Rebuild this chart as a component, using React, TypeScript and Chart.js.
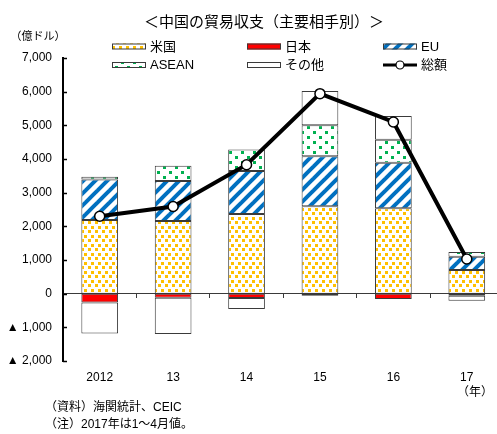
import React, { useEffect, useRef } from 'react';
import { Chart, registerables } from 'chart.js';

Chart.register(...registerables);

const years = ['2012', '13', '14', '15', '16', '17'];
const usValues = [2190, 2160, 2370, 2600, 2540, 705];
const japanValues = [-260, -120, -130, -60, -160, -60];
const euValues = [1200, 1190, 1270, 1480, 1350, 395];
const aseanValues = [85, 446, 640, 920, 685, 140];
const otherValues = [-920, -1080, -325, 1020, 705, -150];
const totalValues = [2300, 2590, 3830, 5940, 5100, 1030];

const titleText = '＜中国の貿易収支（主要相手別）＞';
const unitText = '（億ドル）';
const yearUnitText = '（年）';
const noteLines = ['（資料）海関統計、CEIC', '（注）2017年は1～4月値。'];
const legendNames = ['米国', '日本', 'EU', 'ASEAN', 'その他', '総額'];

const FONT = '"Liberation Sans", Arial, "Noto Sans CJK JP", sans-serif';
const BORDER = '#3a3a3a';

function makeTile(kind: string): HTMLCanvasElement {
  const c = document.createElement('canvas');
  const ctx = c.getContext('2d') as CanvasRenderingContext2D;
  if (kind === 'us') {
    c.width = 7; c.height = 9;
    ctx.fillStyle = '#ffffff'; ctx.fillRect(0, 0, 7, 9);
    ctx.fillStyle = '#FFC000';
    ctx.fillRect(0, 1, 3, 3);
    ctx.fillRect(4, 5, 3, 3);
  } else if (kind === 'eu') {
    c.width = 12; c.height = 12;
    ctx.fillStyle = '#ffffff'; ctx.fillRect(0, 0, 12, 12);
    ctx.strokeStyle = '#0070C0';
    ctx.lineWidth = 4;
    for (const o of [-12, 0, 12]) {
      ctx.beginPath();
      ctx.moveTo(o - 2, 14);
      ctx.lineTo(o + 14, -2);
      ctx.stroke();
    }
  } else {
    c.width = 12; c.height = 10;
    ctx.fillStyle = '#ffffff'; ctx.fillRect(0, 0, 12, 10);
    ctx.fillStyle = '#00B050';
    ctx.fillRect(1, 1, 3, 3);
    ctx.fillRect(7, 6, 3, 3);
  }
  return c;
}

export default function App() {
  const ref = useRef<HTMLCanvasElement | null>(null);

  useEffect(() => {
    const canvas = ref.current;
    if (!canvas) return;
    const ctx0 = canvas.getContext('2d') as CanvasRenderingContext2D;
    const usPat = ctx0.createPattern(makeTile('us'), 'repeat') as CanvasPattern;
    const euPat = ctx0.createPattern(makeTile('eu'), 'repeat') as CanvasPattern;
    const aseanPat = ctx0.createPattern(makeTile('asean'), 'repeat') as CanvasPattern;

    const overlay = {
      id: 'overlay',
      afterDraw(chart: any) {
        const ctx = chart.ctx as CanvasRenderingContext2D;
        const y = chart.scales.y;
        const area = chart.chartArea;
        ctx.save();
        // inward ticks on y axis
        ctx.strokeStyle = '#000';
        ctx.lineWidth = 1.5;
        for (const t of y.ticks) {
          const py = Math.round(y.getPixelForValue(t.value)) + 0.5;
          ctx.beginPath();
          ctx.moveTo(area.left, py);
          ctx.lineTo(area.left + 4, py);
          ctx.stroke();
        }
        // title
        ctx.fillStyle = '#000';
        ctx.textBaseline = 'middle';
        ctx.textAlign = 'center';
        ctx.font = `15px ${FONT}`;
        ctx.fillText(titleText, 264, 23);
        ctx.font = `11px ${FONT}`;
        ctx.fillText(unitText, 38, 37);
        // legend
        const legendItems = [
          { x: 112, y: 46.5, fill: usPat, kind: 'box' },
          { x: 247, y: 46.5, fill: '#FF0000', kind: 'box' },
          { x: 383, y: 46.5, fill: euPat, kind: 'box' },
          { x: 112, y: 65, fill: aseanPat, kind: 'box' },
          { x: 247, y: 65, fill: '#ffffff', kind: 'box' },
          { x: 383, y: 65, fill: '#000', kind: 'line' },
        ];
        ctx.font = `13px ${FONT}`;
        ctx.textAlign = 'left';
        legendItems.forEach((it, i) => {
          if (it.kind === 'box') {
            ctx.fillStyle = it.fill as any;
            ctx.fillRect(it.x, it.y - 3, 34, 6);
            ctx.strokeStyle = BORDER;
            ctx.lineWidth = 1;
            ctx.strokeRect(it.x + 0.5, it.y - 2.5, 33, 5);
          } else {
            ctx.strokeStyle = '#000';
            ctx.lineWidth = 3;
            ctx.beginPath();
            ctx.moveTo(it.x, it.y);
            ctx.lineTo(it.x + 34, it.y);
            ctx.stroke();
            ctx.beginPath();
            ctx.arc(it.x + 17, it.y, 4, 0, Math.PI * 2);
            ctx.fillStyle = '#fff';
            ctx.fill();
            ctx.lineWidth = 1.2;
            ctx.stroke();
          }
          ctx.fillStyle = '#000';
          ctx.fillText(legendNames[i], it.x + 38, it.y + 0.5);
        });
        // year unit
        ctx.font = `12px ${FONT}`;
        ctx.textAlign = 'center';
        ctx.fillText(yearUnitText, 475, 393);
        // notes
        ctx.textAlign = 'left';
        ctx.fillText(noteLines[0], 45, 408);
        ctx.fillText(noteLines[1], 45, 425);
        ctx.restore();
      },
    };

    const barCommon = {
      xAxisID: 'x',
      yAxisID: 'y',
      borderColor: BORDER,
      borderWidth: 1,
      borderSkipped: false,
      categoryPercentage: 1,
      barPercentage: 0.5,
      order: 1,
      stack: 'bars',
    };

    const chart = new Chart(canvas, {
      type: 'bar',
      data: {
        labels: years,
        datasets: [
          { ...barCommon, label: legendNames[0], data: usValues, backgroundColor: usPat },
          { ...barCommon, label: legendNames[1], data: japanValues, backgroundColor: '#FF0000' },
          { ...barCommon, label: legendNames[2], data: euValues, backgroundColor: euPat },
          { ...barCommon, label: legendNames[3], data: aseanValues, backgroundColor: aseanPat },
          { ...barCommon, label: legendNames[4], data: otherValues, backgroundColor: '#ffffff' },
          {
            type: 'line',
            label: legendNames[5],
            data: totalValues,
            xAxisID: 'x',
            yAxisID: 'y',
            stack: 'total',
            order: 0,
            borderColor: '#000',
            borderWidth: 4,
            pointRadius: 5,
            pointBackgroundColor: '#fff',
            pointBorderColor: '#000',
            pointBorderWidth: 1.5,
            tension: 0,
          } as any,
        ],
      },
      options: {
        responsive: false,
        animation: false,
        devicePixelRatio: 1,
        layout: { padding: { top: 58, left: 0, right: 5, bottom: 0 } },
        plugins: { legend: { display: false }, tooltip: { enabled: false }, title: { display: false } },
        scales: {
          x: {
            type: 'category',
            position: { y: 0 } as any,
            stacked: true,
            offset: true,
            ticks: { display: false },
            grid: { drawOnChartArea: false, drawTicks: true, tickLength: 4, color: BORDER, offset: true, lineWidth: 1 },
            border: { display: true, color: BORDER, width: 1 },
          },
          x2: {
            type: 'category',
            labels: years,
            position: 'bottom',
            offset: true,
            grid: { display: false, drawTicks: false },
            border: { display: false },
            ticks: { font: { size: 12, family: FONT }, color: '#000', padding: 9, autoSkip: false, maxRotation: 0 },
            afterFit: (s: any) => { s.height = 73; },
          },
          y: {
            type: 'linear',
            stacked: true,
            min: -2000,
            max: 7000,
            grid: { display: false, drawTicks: false },
            border: { display: true, color: '#000', width: 2 },
            ticks: {
              stepSize: 1000,
              padding: 11,
              color: '#000',
              font: { size: 12, family: FONT },
              callback: (v: any) => {
                const n = Number(v);
                const s = Math.abs(n).toLocaleString('en-US');
                return n < 0 ? '▲ ' + s : s;
              },
            },
            afterFit: (s: any) => { s.width = 63; },
          },
        },
      },
      plugins: [overlay],
    } as any);

    return () => chart.destroy();
  }, []);

  return (
    <div style={{ position: 'absolute', left: 0, top: 0, width: 497, height: 434, overflow: 'hidden', background: '#fff' }}>
      <canvas ref={ref} width={510} height={434} style={{ display: 'block', width: 510, height: 434 }} />
    </div>
  );
}
